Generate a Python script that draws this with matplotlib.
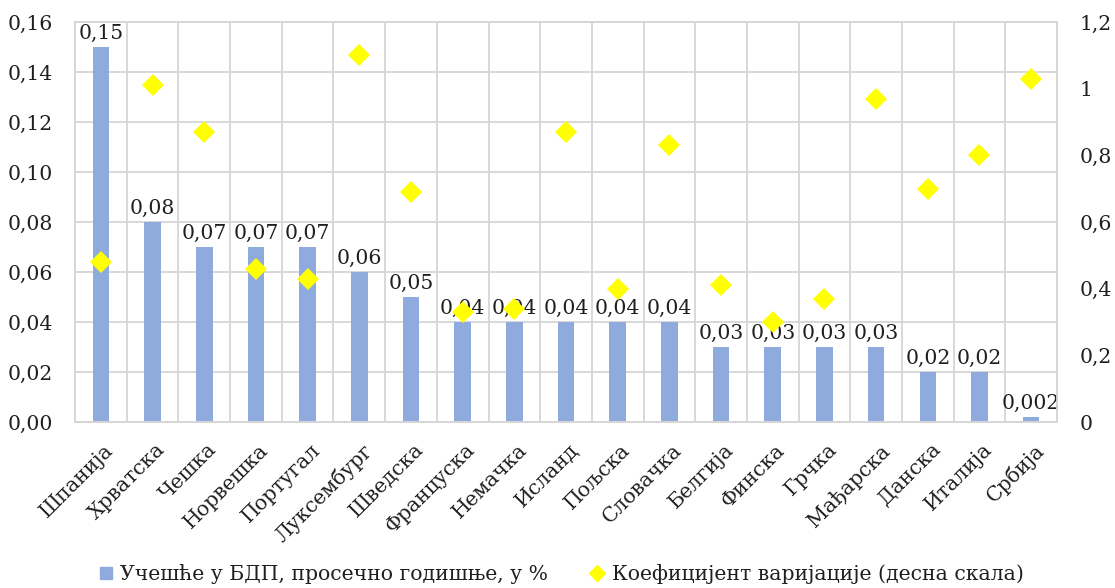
import matplotlib
matplotlib.use("Agg")
import matplotlib.pyplot as plt
from matplotlib.lines import Line2D
from matplotlib.ticker import FuncFormatter, MultipleLocator
from matplotlib.transforms import ScaledTranslation
import numpy as np

countries = ["Шпанија", "Хрватска", "Чешка", "Норвешка", "Португал", "Луксембург",
             "Шведска", "Француска", "Немачка", "Исланд", "Пољска", "Словачка",
             "Белгија", "Финска", "Грчка", "Мађарска", "Данска", "Италија", "Србија"]
gdp_share = [0.15, 0.08, 0.07, 0.07, 0.07, 0.06, 0.05, 0.04, 0.04, 0.04, 0.04, 0.04,
             0.03, 0.03, 0.03, 0.03, 0.02, 0.02, 0.002]
gdp_labels = ["0,15", "0,08", "0,07", "0,07", "0,07", "0,06", "0,05", "0,04", "0,04",
              "0,04", "0,04", "0,04", "0,03", "0,03", "0,03", "0,03", "0,02", "0,02", "0,002"]
variation = [0.48, 1.01, 0.87, 0.46, 0.43, 1.10, 0.69, 0.33, 0.34, 0.87, 0.40, 0.83,
             0.41, 0.30, 0.37, 0.97, 0.70, 0.80, 1.03]

bar_label = "Учешће у БДП, просечно годишње, у %"
dot_label = "Коефицијент варијације (десна скала)"

BAR_COLOR = "#8FAADC"
DOT_COLOR = "#FFFF00"
GRID_COLOR = "#D6D6D6"
TEXT_COLOR = "#1F1F1F"
FS = 14.7

plt.rcParams["font.family"] = ["DejaVu Serif"]
plt.rcParams["font.size"] = FS
plt.rcParams["text.color"] = TEXT_COLOR

fig = plt.figure(figsize=(11.15, 5.88), dpi=100)
ax = fig.add_axes([0.0673, 0.2823, 0.8807, 0.6803])
ax2 = ax.twinx()

x = np.arange(len(countries))
ax.bar(x, gdp_share, width=0.32, color=BAR_COLOR, zorder=2)
for xi, v, lab in zip(x, gdp_share, gdp_labels):
    ax.annotate(lab, (xi, v), xytext=(0, 3), textcoords="offset points",
                ha="center", va="bottom", fontsize=FS, color=TEXT_COLOR, zorder=5)

ax.set_xlim(-0.5, len(countries) - 0.5)
ax.set_ylim(0, 0.16)
ax.yaxis.set_major_locator(MultipleLocator(0.02))
ax.yaxis.set_major_formatter(FuncFormatter(lambda v, p: f"{v:.2f}".replace(".", ",")))

# horizontal grid on left-axis ticks, vertical grid between categories
for yv in np.arange(0, 0.1601, 0.02):
    ax.axhline(yv, color=GRID_COLOR, lw=1.3, zorder=0)
for xb in np.arange(-0.5, len(countries), 1.0):
    ax.axvline(xb, color=GRID_COLOR, lw=1.3, zorder=0)

ax.set_xticks(x)
ax.set_xticklabels(countries, rotation=45, ha="right", rotation_mode="anchor")
ax.tick_params(axis="x", length=0, pad=13, labelsize=FS, colors=TEXT_COLOR)
shift = ScaledTranslation(2 / 72, 0, fig.dpi_scale_trans)
for lbl in ax.get_xticklabels():
    lbl.set_transform(lbl.get_transform() + shift)
ax.tick_params(axis="y", length=0, pad=16, labelsize=FS, colors=TEXT_COLOR)

ax2.plot(x, variation, linestyle="none", marker="D", markersize=11.5,
         color=DOT_COLOR, markeredgewidth=0, zorder=4)
ax2.set_ylim(0, 1.2)
ax2.yaxis.set_major_locator(MultipleLocator(0.2))


def right_fmt(v, p):
    s = f"{v:.1f}"
    if s.endswith(".0"):
        s = s[:-2]
    return s.replace(".", ",")


ax2.yaxis.set_major_formatter(FuncFormatter(right_fmt))
ax2.tick_params(axis="y", length=0, pad=16, labelsize=FS, colors=TEXT_COLOR)

for a in (ax, ax2):
    for sp in a.spines.values():
        sp.set_color(GRID_COLOR)
        sp.set_linewidth(1.3)

handles = [
    Line2D([], [], linestyle="none", marker="s", markersize=8, color=BAR_COLOR),
    Line2D([], [], linestyle="none", marker="D", markersize=8, color=DOT_COLOR),
]
fig.legend(handles, [bar_label, dot_label], loc="lower center",
           bbox_to_anchor=(0.503, -0.024), ncol=2, frameon=False,
           fontsize=FS, handlelength=0.8, handletextpad=0.3, columnspacing=2.0)

fig.savefig("out.png", dpi=100, facecolor="white")
